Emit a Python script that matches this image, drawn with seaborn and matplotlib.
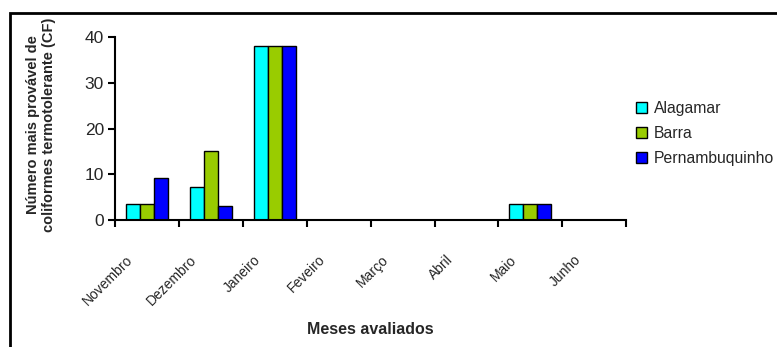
import numpy as np
import pandas as pd
import seaborn as sns
import matplotlib.pyplot as plt
from matplotlib.patches import Rectangle

meses = ["Novembro", "Dezembro", "Janeiro", "Feveiro", "Março", "Abril", "Maio", "Junho"]
alagamar = [3.6, 7.3, 38, 0, 0, 0, 3.6, 0]
barra = [3.6, 15, 38, 0, 0, 0, 3.6, 0]
pernambuquinho = [9.2, 3.0, 38, 0, 0, 0, 3.6, 0]
locais = ["Alagamar", "Barra", "Pernambuquinho"]
cores = ["#00FFFF", "#99CC00", "#0000FF"]

df = pd.DataFrame({
    "mes": meses * 3,
    "local": [l for l in locais for _ in meses],
    "valor": alagamar + barra + pernambuquinho,
})

sns.set_style("white")
plt.rcParams['font.family'] = ['Liberation Sans', 'DejaVu Sans']

fig = plt.figure(figsize=(7.77, 3.47), dpi=100)
ax = fig.add_axes([0.148, 0.366, 0.658, 0.527])

sns.barplot(data=df, x="mes", y="valor", hue="local", order=meses, hue_order=locais,
            palette=cores, width=0.66, gap=0, edgecolor="black", linewidth=1,
            saturation=1, ax=ax)

ax.set_ylim(0, 40)
ax.set_xlim(-0.5, 7.5)
ax.set_yticks([0, 10, 20, 30, 40])
ax.set_xticks(np.arange(-0.5, 8, 1), minor=False)
ax.set_xticklabels([])
# month labels sit a bit left of the category centre in the original
ax.set_xticks(np.arange(0, 8) - 0.25, minor=True)
ax.set_xticklabels(meses, minor=True, rotation=45, ha="right", va="center",
                   rotation_mode="anchor", fontsize=10)
ax.tick_params(axis="x", which="minor", length=0, pad=27)
ax.tick_params(axis="x", which="major", direction="out", length=5, width=1.5, color="black", bottom=True)
ax.tick_params(axis="y", direction="out", length=5, width=1.5, color="black", labelsize=12.5, left=True, pad=3)
for s in ["top", "right"]:
    ax.spines[s].set_visible(False)
for s in ["left", "bottom"]:
    ax.spines[s].set_color("black")
    ax.spines[s].set_linewidth(1.5)

ax.set_xlabel("")
ax.set_ylabel("")
fig.text(370 / 777, 1 - 329 / 347, "Meses avaliados", ha="center", va="center",
         fontsize=11.5, fontweight="bold")
fig.text(0.053, 0.64, "Número mais provável de\ncoliformes termotolerante (CF)",
         rotation=90, ha="center", va="center", fontsize=10.5, fontweight="bold",
         linespacing=1.15)

handles, labels = ax.get_legend_handles_labels()
ax.legend(handles, labels, loc="center left", bbox_to_anchor=(0.818, 0.615),
          bbox_transform=fig.transFigure, frameon=False, fontsize=11.3,
          borderaxespad=0, borderpad=0,
          handlelength=0.7, handleheight=0.7, handletextpad=0.45, labelspacing=0.62)

fig.add_artist(Rectangle((10 / 777, -0.1), 1.0, 1.1 - 13 / 347, transform=fig.transFigure,
                         fill=False, edgecolor="black", linewidth=2, clip_on=False))

fig.savefig("out.png", dpi=100)
